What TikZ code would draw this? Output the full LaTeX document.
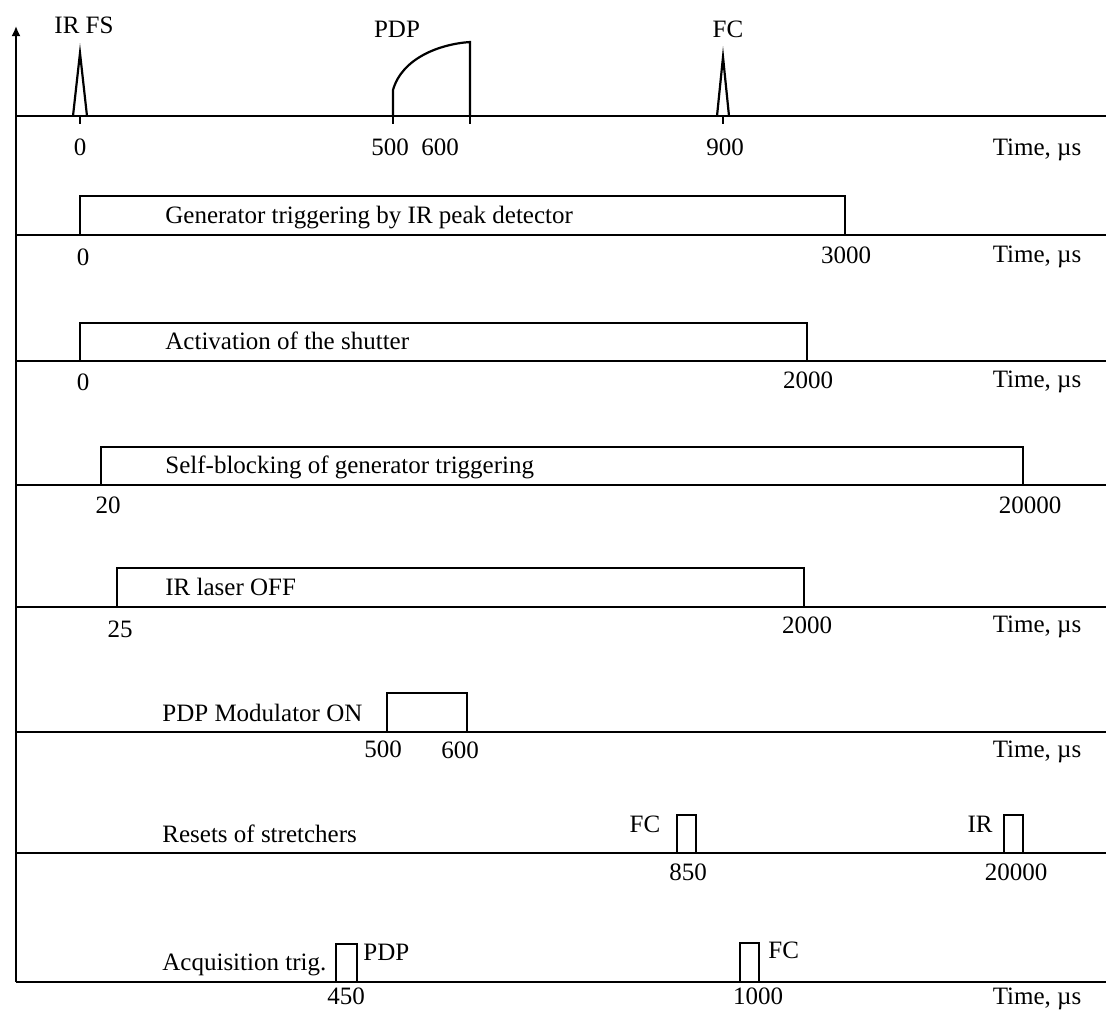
\documentclass[tikz,border=0pt]{standalone}
\usepackage{fontspec}
\setmainfont{Liberation Serif}
\usetikzlibrary{arrows.meta}

\begin{document}
\begin{tikzpicture}[
  x=0.5pt, y=-0.5pt, >=Latex,
  every node/.style={font=\fontsize{12.5}{15}\selectfont, inner sep=0pt},
  lbl/.style={anchor=base west},
  num/.style={anchor=base},
  timelbl/.style={anchor=base},
  baseline/.style={line width=0.9pt},
  pulse/.style={line width=1.1pt, line join=miter}
]
\useasboundingbox (0,0) rectangle (1106,1009);

% vertical axis and time lines
\draw[baseline, -{Latex[length=5pt,width=4.5pt]}] (16,982) -- (16,26);
\foreach \yy in {116,235,361,485,607,732,853,982}
  \draw[baseline] (16,\yy) -- (1106,\yy);
\foreach \yy/\nm in {155/t1,262/t2,387/t3,632/t5,757/t6,1004/t8}
  \node[timelbl] (\nm) at (1037,\yy) {Time, µs};

% row 1: pulses
\draw[pulse] (73,116) -- (80,53) -- (87,116);
\draw[pulse] (717,116) -- (723,57) -- (729,116);
\draw[pulse] (393,116) -- (393,90) .. controls (402,58) and (440,44) .. (470,42) -- (470,116);
\foreach \xx in {80,393,470,723}
  \draw[baseline] (\xx,116) -- (\xx,124);
\node[num] (irfs) at (84,33) {IR FS};
\node[num] (pdp) at (397,37) {PDP};
\node[num] (fc) at (728,37) {FC};
\node[num] (n0) at (80,155) {0};
\node[num] (n500) at (390,155) {500};
\node[num] (n600) at (440,155) {600};
\node[num] (n900) at (725,155) {900};

% row 2: generator triggering
\draw[pulse] (80,235) -- (80,196) -- (845,196) -- (845,235);
\node[lbl] (gen) at (165,223) {Generator triggering by IR peak detector};
\node[num] (gen0) at (83,265) {0};
\node[num] (gen1) at (846,263) {3000};

% row 3: shutter
\draw[pulse] (80,361) -- (80,323) -- (807,323) -- (807,361);
\node[lbl] (shut) at (165,349) {Activation of the shutter};
\node[num] (shut0) at (83,390) {0};
\node[num] (shut1) at (808,388) {2000};

% row 4: self-blocking
\draw[pulse] (101,485) -- (101,447) -- (1023,447) -- (1023,485);
\node[lbl] (block) at (165,473) {Self-blocking of generator triggering};
\node[num] (block0) at (108,513) {20};
\node[num] (block1) at (1030,513) {20000};

% row 5: IR laser
\draw[pulse] (117,607) -- (117,568) -- (804,568) -- (804,607);
\node[lbl] (laser) at (165,595) {IR laser OFF};
\node[num] (laser0) at (120,637) {25};
\node[num] (laser1) at (807,633) {2000};

% row 6: modulator
\draw[pulse] (387,732) -- (387,693) -- (467,693) -- (467,732);
\node[lbl] (mod) at (162,721) {PDP Modulator ON};
\node[num] (mod0) at (383,757) {500};
\node[num] (mod1) at (460,758) {600};

% row 7: resets
\draw[pulse] (677,853) -- (677,815) -- (696,815) -- (696,853);
\draw[pulse] (1004,853) -- (1004,815) -- (1023,815) -- (1023,853);
\node[lbl] (reset) at (162,842) {Resets of stretchers};
\node[num] (resetfc) at (645,832) {FC};
\node[num] (resetir) at (980,832) {IR};
\node[num] (reset0) at (688,880) {850};
\node[num] (reset1) at (1016,880) {20000};

% row 8: acquisition
\draw[pulse] (336,982) -- (336,944) -- (357,944) -- (357,982);
\draw[pulse] (740,982) -- (740,943) -- (759,943) -- (759,982);
\node[lbl] (acq) at (162,970) {Acquisition trig.};
\node[lbl] (acqpdp) at (363,960) {PDP};
\node[lbl] (acqfc) at (768,958) {FC};
\node[num] (acq0) at (346,1004) {450};
\node[num] (acq1) at (758,1004) {1000};
\end{tikzpicture}
\end{document}
